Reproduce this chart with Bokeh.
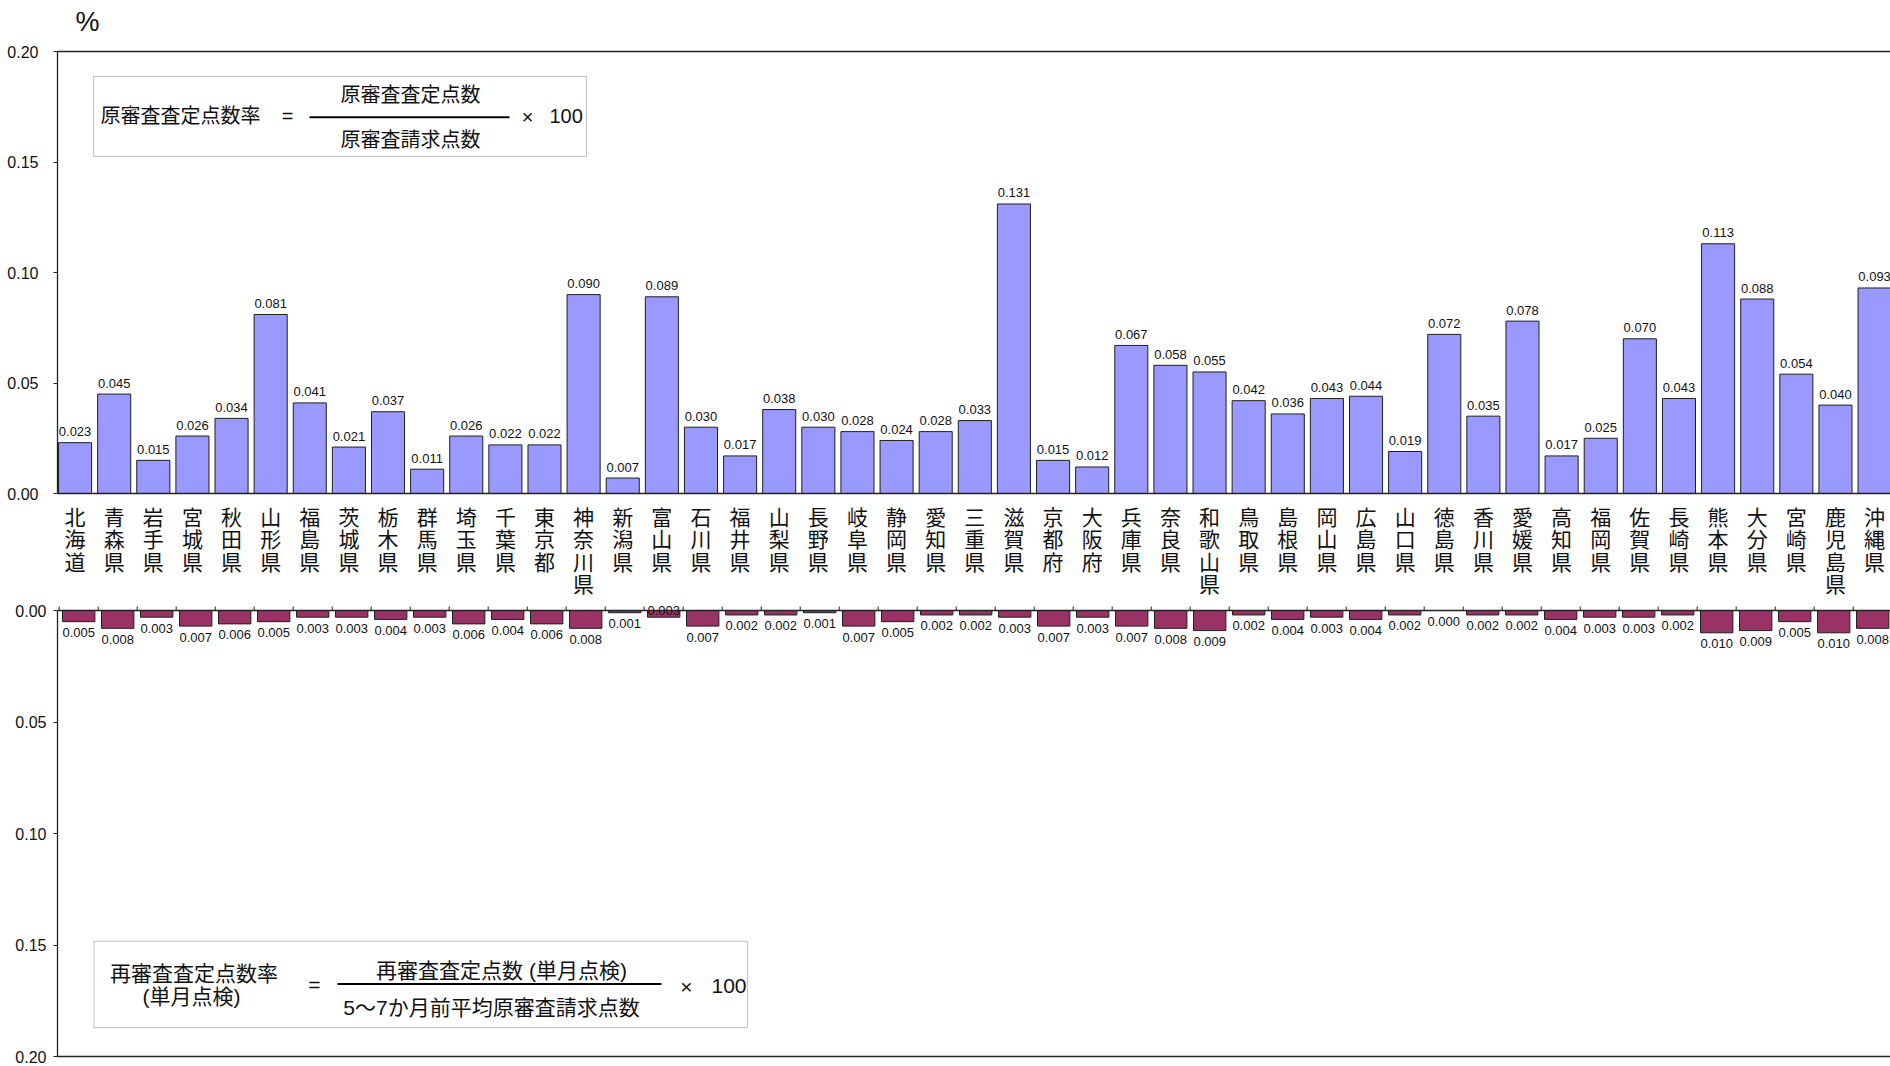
from bokeh.plotting import figure
from bokeh.models import (Range1d, FixedTicker, BoxAnnotation, Label, ColumnDataSource, Span,
                          NumeralTickFormatter, LinearAxis, CustomJSTickFormatter)
from bokeh.layouts import column
from bokeh.embed import file_html
from bokeh.resources import INLINE
from bokeh.core.properties import value

# ---------------- data ----------------
prefectures = ["北海道", "青森県", "岩手県", "宮城県", "秋田県", "山形県", "福島県", "茨城県", "栃木県", "群馬県",
               "埼玉県", "千葉県", "東京都", "神奈川県", "新潟県", "富山県", "石川県", "福井県", "山梨県", "長野県",
               "岐阜県", "静岡県", "愛知県", "三重県", "滋賀県", "京都府", "大阪府", "兵庫県", "奈良県", "和歌山県",
               "鳥取県", "島根県", "岡山県", "広島県", "山口県", "徳島県", "香川県", "愛媛県", "高知県", "福岡県",
               "佐賀県", "長崎県", "熊本県", "大分県", "宮崎県", "鹿児島県", "沖縄県"]

orig_rate = [0.023, 0.045, 0.015, 0.026, 0.034, 0.081, 0.041, 0.021, 0.037, 0.011,
             0.026, 0.022, 0.022, 0.090, 0.007, 0.089, 0.030, 0.017, 0.038, 0.030,
             0.028, 0.024, 0.028, 0.033, 0.131, 0.015, 0.012, 0.067, 0.058, 0.055,
             0.042, 0.036, 0.043, 0.044, 0.019, 0.072, 0.035, 0.078, 0.017, 0.025,
             0.070, 0.043, 0.113, 0.088, 0.054, 0.040, 0.093]

re_rate = [0.005, 0.008, 0.003, 0.007, 0.006, 0.005, 0.003, 0.003, 0.004, 0.003,
           0.006, 0.004, 0.006, 0.008, 0.001, 0.003, 0.007, 0.002, 0.002, 0.001,
           0.007, 0.005, 0.002, 0.002, 0.003, 0.007, 0.003, 0.007, 0.008, 0.009,
           0.002, 0.004, 0.003, 0.004, 0.002, 0.000, 0.002, 0.002, 0.004, 0.003,
           0.003, 0.002, 0.010, 0.009, 0.005, 0.010, 0.008]

y_ticks = [0.00, 0.05, 0.10, 0.15, 0.20]
unit_label = "%"

top_formula_lhs = "原審査査定点数率"
top_formula_num = "原審査査定点数"
top_formula_den = "原審査請求点数"
bot_formula_lhs1 = "再審査査定点数率"
bot_formula_lhs2 = "(単月点検)"
bot_formula_num = "再審査査定点数 (単月点検)"
bot_formula_den = "5～7か月前平均原審査請求点数"

# ---------------- styling / layout ----------------
W = 1890
NUM_FONT = "Liberation Sans, Noto Sans CJK JP"
CJK_FONT = "Noto Sans CJK JP"
AX_COL = "#222222"
TXT_COL = "#111111"

HEAD_H, TOP_H, LAB_H, BOT_H = 40, 461, 97, 468
FRAME_LEFT = 57              # all frames in a column share the same left edge
TOP_STEP, BOT_STEP = 39.12, 39.0
TOP_PX = 442.3 / 0.2         # pixels per unit, top panel
BOT_PX = 446.0 / 0.2         # pixels per unit, bottom panel
BOT_PAD_TOP = 12             # px of bottom frame above its zero line
BOT_BORDER_BOTTOM = 10

idx = list(range(len(prefectures)))


# helpers mapping reference-image pixel positions to data coordinates
def top_dx(px):
    return -0.5 + (px - 55.0) / TOP_STEP


def top_dy(py):
    return (493.3 - py) / (493.3 - 51.0) * 0.2


def bot_dx(px):
    return -0.5 + (px - 58.7) / BOT_STEP


def bot_dy(py):
    return (py - 610.0) / (1059.0 - 610.0) * 0.2


def style_left_axis(ax, standoff):
    ax.ticker = FixedTicker(ticks=y_ticks)
    ax.formatter = NumeralTickFormatter(format="0.00")
    ax.major_tick_in = 0
    ax.major_tick_out = 4
    ax.minor_tick_line_color = None
    ax.axis_line_color = AX_COL
    ax.axis_line_width = 1.3
    ax.major_tick_line_color = AX_COL
    ax.major_label_text_font = NUM_FONT
    ax.major_label_text_font_size = "16px"
    ax.major_label_text_color = TXT_COL
    ax.major_label_standoff = standoff


def line_axis():
    ax = LinearAxis(ticker=FixedTicker(ticks=[]))
    ax.formatter = CustomJSTickFormatter(code="return ''")
    ax.major_label_text_font_size = "1px"
    ax.major_label_standoff = 0
    ax.major_tick_in = 0
    ax.major_tick_out = 0
    ax.minor_tick_line_color = None
    ax.axis_line_color = AX_COL
    ax.axis_line_width = 1.5
    ax.major_tick_line_color = None
    return ax


def bare(fig):
    fig.outline_line_color = None
    fig.grid.grid_line_color = None
    return fig


common = dict(width=W, output_backend="svg", toolbar_location=None,
              min_border_left=FRAME_LEFT, min_border_right=0,
              x_axis_location=None, y_axis_location=None)

# ---------------- unit heading ----------------
head = bare(figure(height=HEAD_H, x_range=Range1d(FRAME_LEFT, W), y_range=Range1d(0, HEAD_H),
                   min_border_top=0, min_border_bottom=0, **common))
head.text(x=[87], y=[HEAD_H - 21], text=[unit_label], text_align="center", text_baseline="middle",
          text_font=value(NUM_FONT), text_font_size=value("27px"), text_color=TXT_COL)

# ---------------- top panel ----------------
top = bare(figure(height=TOP_H, x_range=Range1d(top_dx(FRAME_LEFT), top_dx(W)), y_range=Range1d(0, 0.2),
                  min_border_top=11, min_border_bottom=8, **common))

ya = LinearAxis()
style_left_axis(ya, 15)
top.add_layout(ya, "left")
top.add_layout(line_axis(), "below")
top.add_layout(line_axis(), "above")

top_lab_gap = 11.0 / TOP_PX
src_top = ColumnDataSource(dict(x=idx, v=orig_rate, ly=[v + top_lab_gap for v in orig_rate],
                                lab=[f"{v:.3f}" for v in orig_rate]))
top.vbar(x="x", top="v", bottom=0, width=0.845, source=src_top,
         fill_color="#9999FF", line_color="#1f1f1f", line_width=1)
top.text(x="x", y="ly", text="lab", source=src_top, text_align="center", text_baseline="alphabetic",
         text_font=value(NUM_FONT), text_font_size=value("13px"), text_color=TXT_COL)

top.add_layout(BoxAnnotation(left=top_dx(93), right=top_dx(586), top=top_dy(76), bottom=top_dy(156),
                             fill_color=None, line_color="#333333", line_width=1))
top.segment(x0=[top_dx(309)], y0=[top_dy(116.7)], x1=[top_dx(509)], y1=[top_dy(116.7)],
            line_color="black", line_width=2)
for txt, px, py, align in [(top_formula_lhs, 100, 116, "left"), ("=", 287, 116, "center"),
                           (top_formula_num, 410, 95, "center"), (top_formula_den, 410, 139.5, "center"),
                           ("×", 527, 117, "center"), ("100", 549, 116, "left")]:
    top.add_layout(Label(x=top_dx(px), y=top_dy(py), text=txt, text_align=align, text_baseline="middle",
                         text_font=NUM_FONT, text_font_size="20px", text_color=TXT_COL))

# ---------------- category labels ----------------
lab = bare(figure(height=LAB_H, x_range=top.x_range, y_range=Range1d(0, LAB_H),
                  min_border_top=0, min_border_bottom=0, **common))
src_lab = ColumnDataSource(dict(x=idx, t=["\n".join(name) for name in prefectures]))
lab.text(x="x", y=LAB_H + 1, text="t", source=src_lab, text_align="center", text_baseline="top",
         text_font=value(CJK_FONT), text_font_size=value("21px"), text_line_height=0.75, text_color=TXT_COL)

# ---------------- bottom panel ----------------
bot = bare(figure(height=BOT_H, x_range=Range1d(bot_dx(FRAME_LEFT), bot_dx(W)),
                  y_range=Range1d(0.2, -BOT_PAD_TOP / BOT_PX),
                  min_border_top=0, min_border_bottom=BOT_BORDER_BOTTOM, **common))

yb = LinearAxis(bounds=(0, 0.2))
style_left_axis(yb, 7)
bot.add_layout(yb, "left")
bot.add_layout(line_axis(), "below")
bot.add_layout(Span(location=0, dimension="width", line_color=AX_COL, line_width=1.5))
boundaries = [i - 0.5 for i in range(len(prefectures) + 1)]
bot.segment(x0=boundaries, y0=[0] * len(boundaries), x1=boundaries, y1=[-4 / BOT_PX] * len(boundaries),
            line_color=AX_COL, line_width=1)

bot_lab_gap = 6.5 / BOT_PX
src_bot = ColumnDataSource(dict(x=idx, v=re_rate))
bot.vbar(x="x", top="v", bottom=0, width=0.83, source=src_bot,
         fill_color="#993366", line_color="#1f1f1f", line_width=1)

# label of 富山県 sits on the zero line in the original; all others hang below the bar
raised = {"富山県"}
normal_i = [i for i, n in enumerate(prefectures) if n not in raised]
raised_i = [i for i, n in enumerate(prefectures) if n in raised]
src_bl = ColumnDataSource(dict(x=normal_i, y=[re_rate[i] + bot_lab_gap for i in normal_i],
                               lab=[f"{re_rate[i]:.3f}" for i in normal_i]))
src_br = ColumnDataSource(dict(x=raised_i, y=[0.0 for i in raised_i],
                               lab=[f"{re_rate[i]:.3f}" for i in raised_i]))
bot.text(x="x", y="y", text="lab", source=src_bl, text_align="center", text_baseline="top",
         text_font=value(NUM_FONT), text_font_size=value("13px"), text_color=TXT_COL)
bot.text(x="x", y="y", text="lab", source=src_br, text_align="center", text_baseline="middle",
         text_font=value(NUM_FONT), text_font_size=value("13px"), text_color=TXT_COL)

bot.add_layout(BoxAnnotation(left=bot_dx(93.5), right=bot_dx(747), top=bot_dy(943), bottom=bot_dy(1030),
                             fill_color=None, line_color="#333333", line_width=1))
bot.segment(x0=[bot_dx(337)], y0=[bot_dy(986)], x1=[bot_dx(661)], y1=[bot_dy(986)],
            line_color="black", line_width=2)
for txt, px, py, align in [(bot_formula_lhs1, 193.5, 975, "center"), (bot_formula_lhs2, 191, 999, "center"),
                           ("=", 314, 987, "center"), (bot_formula_num, 501, 972, "center"),
                           (bot_formula_den, 491, 1010, "center"), ("×", 686, 989, "center"),
                           ("100", 711, 988, "left")]:
    bot.add_layout(Label(x=bot_dx(px), y=bot_dy(py), text=txt, text_align=align, text_baseline="middle",
                         text_font=NUM_FONT, text_font_size="21px", text_color=TXT_COL))

layout = column(head, top, lab, bot, spacing=0)
open("out.html", "w").write(file_html(layout, INLINE))
